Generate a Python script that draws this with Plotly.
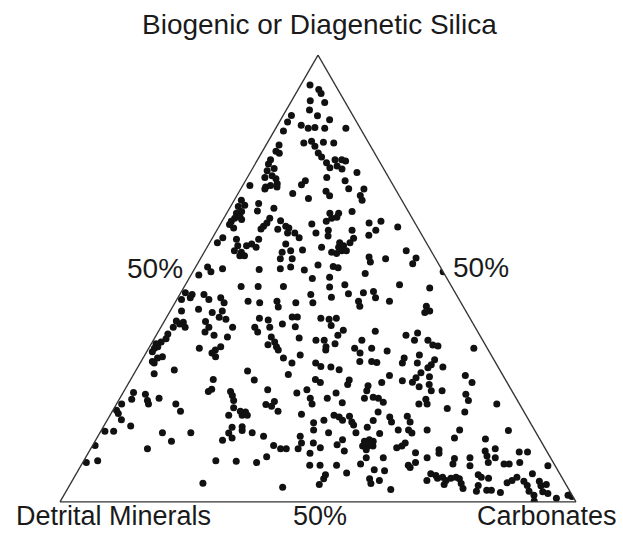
import plotly.graph_objects as go

# Sample compositions (percent): biogenic/diagenetic silica and carbonates;
# detrital minerals make up the remainder of each 100 % total.
silica = [
    93.3, 92.3, 91.4, 89.8, 89.4, 87.7, 86.4, 85.5, 86.5, 85.0,
    84.3, 83.6, 83.8, 83.6, 83.6, 83.0, 80.3, 80.7, 79.6, 80.5,
    80.3, 79.9, 78.5, 78.0, 78.1, 77.2, 75.9, 74.8, 76.6, 76.6,
    76.3, 75.2, 74.5, 73.7, 76.6, 75.6, 74.6, 74.1, 73.0, 72.3,
    72.6, 72.6, 71.9, 71.9, 71.0, 70.8, 70.5, 70.8, 71.2, 70.0,
    70.5, 69.0, 67.9, 67.5, 66.4, 66.1, 65.0, 64.6, 63.9, 63.5,
    63.2, 66.8, 65.1, 65.7, 63.5, 62.4, 61.7, 61.1, 62.9, 61.0,
    61.7, 61.3, 60.2, 60.2, 59.1, 62.2, 60.2, 62.8, 62.1, 61.3,
    59.1, 58.0, 58.8, 57.3, 56.2, 55.9, 55.1, 57.3, 57.7, 58.8,
    57.0, 55.1, 57.7, 55.9, 54.4, 52.2, 56.2, 54.4, 52.6, 56.4,
    51.9, 53.0, 50.0, 52.0, 52.2, 52.6, 51.5, 50.8, 48.2, 48.2,
    48.2, 46.4, 46.8, 45.3, 45.7, 46.4, 46.4, 45.3, 45.7, 44.9,
    44.6, 44.9, 44.6, 69.5, 68.5, 70.1, 70.0, 68.6, 67.5, 65.0,
    64.6, 64.6, 63.5, 62.8, 63.7, 62.4, 62.8, 61.5, 60.8, 59.7,
    60.8, 60.8, 59.5, 59.0, 58.0, 58.0, 57.0, 57.3, 56.2, 55.6,
    56.2, 55.9, 57.0, 56.2, 54.8, 53.7, 54.4, 54.6, 53.3, 52.7,
    52.4, 51.1, 51.5, 50.3, 48.1, 48.6, 46.6, 46.8, 47.1, 48.6,
    47.9, 44.6, 42.7, 43.1, 42.4, 41.3, 42.7, 40.9, 40.5, 39.8,
    40.2, 39.1, 39.1, 40.4, 39.1, 38.0, 37.3, 39.1, 36.9, 37.6,
    36.5, 35.8, 35.4, 34.7, 34.4, 33.6, 34.4, 34.7, 34.0, 33.3,
    32.5, 32.5, 32.2, 31.4, 31.1, 29.5, 28.7, 27.4, 25.2, 24.7,
    24.7, 23.8, 22.7, 24.5, 23.0, 24.1, 22.7, 21.9, 23.2, 21.9,
    21.9, 29.3, 43.6, 44.6, 45.8, 44.9, 43.8, 45.7, 41.1, 40.7,
    39.1, 39.1, 38.0, 39.8, 41.4, 41.4, 39.2, 41.1, 40.9, 41.1,
    39.5, 38.4, 37.3, 38.2, 36.9, 35.8, 34.7, 34.0, 35.2, 36.7,
    36.2, 36.2, 34.7, 34.0, 35.4, 36.2, 34.4, 33.3, 34.4, 32.2,
    31.1, 32.9, 31.1, 30.3, 30.2, 29.6, 31.4, 31.4, 31.2, 27.3,
    28.5, 27.4, 26.7, 27.3, 26.3, 26.7, 26.0, 24.9, 23.2, 25.1,
    24.4, 25.1, 23.2, 21.9, 23.2, 24.4, 22.2, 23.2, 22.3, 23.4,
    21.8, 21.4, 22.5, 44.9, 43.8, 42.4, 42.7, 37.3, 37.8, 36.2,
    36.2, 35.1, 34.9, 34.4, 33.8, 32.2, 31.1, 32.9, 31.1, 31.8,
    30.7, 30.0, 30.2, 28.9, 27.8, 26.8, 28.0, 28.3, 27.1, 26.3,
    24.9, 25.8, 24.9, 28.3, 26.7, 24.1, 22.7, 23.0, 21.9, 21.9,
    21.9, 20.3, 20.5, 19.8, 18.4, 17.0, 15.8, 15.8, 15.5, 13.6,
    12.6, 11.9, 8.8, 9.2, 21.1, 19.4, 20.3, 20.1, 19.4, 19.4,
    20.3, 19.6, 15.5, 16.7, 15.4, 14.3, 13.8, 16.8, 16.0, 15.5,
    14.7, 12.6, 11.9, 11.9, 14.7, 13.2, 11.9, 16.1, 13.2, 10.9,
    10.1, 9.2, 9.1, 8.8, 8.2, 4.2, 3.3, 17.7, 18.3, 19.4,
    19.0, 18.3, 19.2, 17.9, 17.2, 15.5, 15.5, 16.7, 18.2, 20.1,
    19.0, 17.9, 16.1, 19.2, 17.9, 16.1, 15.4, 16.1, 15.3, 13.6,
    13.9, 13.6, 12.5, 12.5, 12.5, 11.7, 13.9, 12.8, 11.4, 12.1,
    12.1, 12.5, 13.2, 11.0, 9.9, 9.9, 9.9, 11.7, 8.2, 8.2,
    8.5, 7.2, 7.0, 8.2, 8.8, 7.7, 6.5, 6.1, 5.2, 3.9,
    5.2, 4.1, 4.8, 2.8, 4.8, 6.3, 5.9,
    20.9, 20.1, 16.1, 14.3, 14.1, 16.0, 10.9, 11.4, 10.3, 8.8,
    11.9, 9.9, 9.7, 8.5, 9.9, 8.1, 8.5, 8.5, 11.2, 11.2,
    8.8, 8.1, 5.3, 5.5, 4.8, 5.3, 5.5, 5.2, 3.9, 4.1,
    3.0, 6.1, 5.5, 5.3, 3.7, 2.4, 2.6, 2.6, 2.1, 4.3,
    4.8, 5.5, 4.6, 3.7, 2.4, 6.3, 4.6, 3.6, 3.9, 2.3,
    1.9, 1.5, 0.2, 0.8, 1.5, 1.2, 1.7,
]

carbonates = [
    1.8, 4.0, 4.9, 3.6, 6.6, 4.5, 6.7, 9.5, 1.6, 1.6,
    4.6, 6.3, 7.5, 9.5, 13.6, 1.8, 7.1, 8.4, 9.6, 10.8,
    12.9, 2.5, 2.6, 3.5, 11.0, 12.1, 13.7, 14.9, 15.0, 16.3,
    17.2, 16.1, 17.4, 20.7, 2.5, 2.6, 4.2, 3.1, 4.6, 5.7,
    3.4, 15.4, 19.3, 11.6, 11.3, 1.4, 4.6, 5.4, 6.5, 4.7,
    6.8, 10.6, 14.2, 1.4, 2.6, 1.5, 2.7, 1.9, 2.9, 2.1,
    3.6, 5.1, 5.7, 8.6, 8.9, 8.9, 8.6, 8.4, 11.3, 11.7,
    12.9, 13.7, 14.0, 15.4, 16.8, 17.7, 19.5, 1.8, 1.8, 3.0,
    2.0, 1.5, 4.8, 5.8, 5.7, 7.2, 7.3, 7.5, 8.3, 9.1,
    9.5, 8.2, 14.9, 15.1, 15.5, 16.6, 16.6, 17.8, 18.4, 18.8,
    21.4, 23.5, 23.9, 12.6, 5.4, 2.3, 3.5, 1.5, 11.0, 14.3,
    19.2, 25.4, 0.9, 0.9, 2.4, 2.4, 4.7, 6.2, 8.3, 14.0,
    16.4, 19.6, 23.4, 16.8, 18.0, 20.9, 23.9, 23.9, 24.8, 24.1,
    20.0, 21.7, 20.9, 20.2, 21.8, 28.7, 30.8, 34.7, 30.8, 30.0,
    26.2, 21.6, 22.2, 27.4, 27.2, 25.2, 25.5, 26.3, 26.5, 25.8,
    27.4, 24.7, 22.2, 39.0, 32.5, 33.3, 35.9, 41.7, 41.7, 26.6,
    27.7, 33.6, 48.5, 27.1, 28.2, 30.9, 32.6, 35.4, 37.2, 41.5,
    47.7, 9.5, 2.2, 5.3, 8.3, 10.2, 10.1, 11.7, 2.3, 3.3,
    3.8, 4.7, 2.4, 8.0, 9.3, 9.1, 11.2, 13.9, 14.0, 2.1,
    2.3, 1.7, 0.9, 1.6, 1.1, 1.1, 9.8, 13.8, 13.1, 12.8,
    13.9, 3.6, 2.8, 2.2, 2.7, 7.4, 3.9, 16.0, 16.8, 16.4,
    20.7, 21.5, 22.3, 2.0, 2.4, 4.5, 5.6, 6.2, 7.6, 1.0,
    11.5, 21.7, 20.5, 26.7, 29.7, 35.4, 36.2, 38.3, 18.1, 20.0,
    21.1, 18.2, 19.3, 23.2, 24.3, 25.3, 26.0, 30.0, 31.7, 33.0,
    32.8, 35.7, 35.2, 42.0, 22.5, 23.7, 24.6, 25.3, 22.7, 28.0,
    31.5, 33.1, 34.2, 34.5, 35.6, 40.4, 39.9, 41.5, 43.2, 27.2,
    29.4, 30.1, 34.0, 35.4, 37.4, 39.3, 42.4, 44.7, 45.8, 24.0,
    30.0, 35.8, 37.1, 42.4, 42.6, 49.0, 46.7, 47.0, 47.4, 27.7,
    33.7, 35.3, 36.9, 37.9, 40.2, 41.3, 43.6, 50.1, 51.5, 49.0,
    29.0, 30.3, 30.3, 41.4, 49.1, 49.5, 50.3, 48.4, 50.4, 50.6,
    53.2, 54.7, 55.8, 63.0, 46.5, 50.6, 50.8, 53.2, 53.7, 56.7,
    56.6, 56.3, 59.1, 55.5, 55.1, 54.9, 57.6, 49.7, 52.8, 58.4,
    59.5, 56.7, 61.6, 64.4, 66.5, 66.6, 67.8, 59.4, 60.2, 58.6,
    73.7, 13.2, 0.7, 1.4, 2.7, 5.2, 0.8, 2.5, 12.1, 14.8,
    0.5, 11.0, 0.7, 2.7, 23.1, 23.0, 24.8, 25.9, 25.6, 26.6,
    32.1, 37.0, 17.6, 25.0, 25.0, 26.2, 24.6, 26.9, 27.3, 29.5,
    32.1, 35.1, 36.8, 37.9, 39.2, 40.2, 40.2, 41.1, 42.5, 43.0,
    35.0, 25.6, 29.6, 33.7, 44.3, 25.6, 41.5, 40.3, 42.0, 43.4,
    44.6, 45.6, 46.5, 47.6, 48.3, 44.3, 49.6, 51.2, 51.6, 51.6,
    54.4, 55.3, 57.5, 57.7, 58.9, 59.5, 60.5, 63.1, 54.3, 52.2,
    53.0, 53.9, 52.4, 53.4, 54.4, 53.5, 47.8, 47.3, 49.4, 44.4,
    59.2, 60.0, 60.3, 63.4, 54.4, 57.7, 66.2, 67.6, 46.3, 49.5,
    54.0, 57.3, 59.4, 63.4, 64.5, 64.0, 52.3, 48.4, 48.5, 48.3,
    57.4, 58.2, 59.5, 62.7, 68.7, 68.7, 69.9,
    64.6, 68.4, 69.4, 69.3, 75.4, 78.9, 68.0, 76.7, 77.6, 78.6,
    78.4, 79.4, 71.6, 71.9, 74.5, 75.4, 81.8, 82.8, 83.4, 85.0,
    84.7, 90.5, 70.5, 71.4, 72.4, 73.1, 74.0, 74.8, 72.5, 75.7,
    76.6, 78.0, 78.9, 80.4, 79.2, 79.5, 81.4, 82.3, 84.3, 84.5,
    85.2, 85.8, 87.6, 88.7, 89.7, 88.4, 90.6, 91.4, 92.3, 92.4,
    93.6, 91.1, 91.8, 95.8, 97.7, 98.6, 98.2,
]

assert len(silica) == len(carbonates)
detrital = [round(100.0 - s - c, 1) for s, c in zip(silica, carbonates)]

W, H = 623, 533
FONT = "Liberation Sans, Arial, Helvetica, sans-serif"
INK = "#1a1a1a"


def px(x, y):
    """Pixel position -> paper coordinates."""
    return x / W, 1 - y / H


fig = go.Figure(
    go.Scatterternary(
        a=silica,
        b=detrital,
        c=carbonates,
        mode="markers",
        marker=dict(size=7, color="#111111", line=dict(width=0)),
        hoverinfo="skip",
    )
)

axis_style = dict(
    showticklabels=False,
    ticks="",
    showgrid=False,
    linecolor="#333333",
    linewidth=1.3,
    title=dict(text=""),
    min=0,
)

fig.update_layout(
    width=W,
    height=H,
    margin=dict(l=0, r=0, t=0, b=0),
    paper_bgcolor="white",
    showlegend=False,
    ternary=dict(
        sum=100,
        domain=dict(x=[60 / W, 576 / W], y=[0.0275, 0.9275]),
        bgcolor="white",
        aaxis=axis_style,
        baxis=axis_style,
        caxis=axis_style,
    ),
)

labels = [
    ("Biogenic or Diagenetic Silica", 319, 25, 28),
    ("Detrital Minerals", 113, 516, 27),
    ("50%", 320, 516, 27),
    ("Carbonates", 547, 516, 27),
    ("50%", 155, 268, 28),
    ("50%", 481, 267, 28),
]
for text, x, y, size in labels:
    xp, yp = px(x, y)
    fig.add_annotation(
        x=xp, y=yp, xref="paper", yref="paper",
        text=text, showarrow=False,
        xanchor="center", yanchor="middle",
        font=dict(family=FONT, size=size, color=INK),
    )

fig.write_html("out.html")
